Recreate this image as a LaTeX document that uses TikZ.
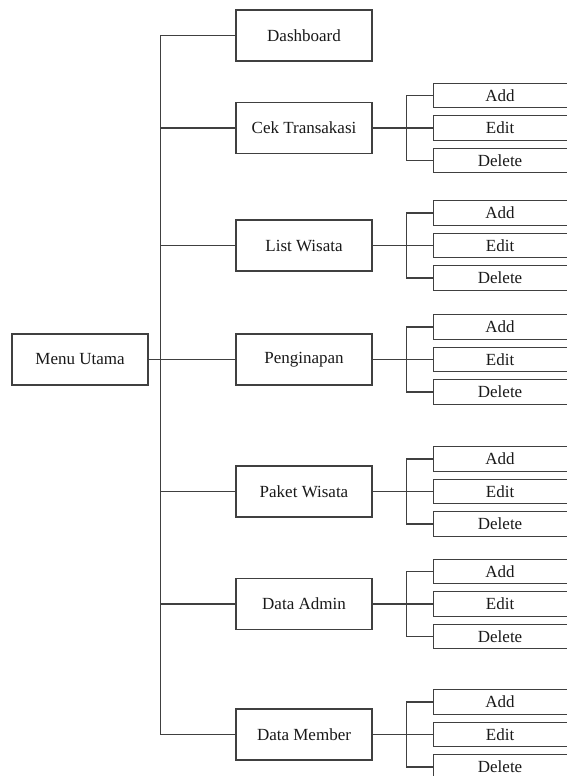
\documentclass[tikz,border=0pt]{standalone}
\usepackage{fontspec}
\setmainfont{Liberation Serif}
\begin{document}
\begin{tikzpicture}[x=1pt,y=-1pt,
  line width=1.1pt,
  wire/.style={draw=black!75},
  menubox/.style={draw=black!75, fill=white, minimum width=136pt, minimum height=51pt,
    inner sep=0pt, font=\fontsize{17}{20}\selectfont, text=black!90},
  leafbox/.style={draw=black!75, fill=white, minimum width=134pt, minimum height=24.5pt,
    inner sep=0pt, font=\fontsize{17}{20}\selectfont, text=black!90}]
\clip (0,0) rectangle (567,776);
\fill[white] (0,0) rectangle (567,776);

% root and main menu entries
\node[menubox] (menu)   at (80,359.5)  {Menu Utama};
\node[menubox] (dash)   at (304,35.5)  {Dashboard};
\node[menubox] (cek)    at (304,128)   {Cek Transakasi};
\node[menubox] (list)   at (304,245.5) {List Wisata};
\node[menubox] (ping)   at (304,359.5) {Penginapan};
\node[menubox] (paket)  at (304,491.5) {Paket Wisata};
\node[menubox] (admin)  at (304,604)   {Data Admin};
\node[menubox] (member) at (304,734.5) {Data Member};

% vertical trunk of the main menu
\coordinate (trunk) at (160.5,0);
\draw[wire] (dash.west) -| (trunk |- member.west) -- (member.west);
\foreach \m in {menu}{\draw[wire] (\m.east) -- (\m.east -| trunk);}
\foreach \m in {cek,list,ping,paket,admin}{\draw[wire] (\m.west) -- (\m.west -| trunk);}

% Add / Edit / Delete actions for each entry
\foreach \m in {cek,list,ping,paket,admin,member}{
  \node[leafbox, anchor=west] (\m-edit) at ([xshift=60pt]\m.east) {Edit};
  \node[leafbox, anchor=west] (\m-add)  at ([yshift=32.5pt]\m-edit.west) {Add};
  \node[leafbox, anchor=west] (\m-del)  at ([yshift=-32.5pt]\m-edit.west) {Delete};
  \draw[wire] (\m.east) -- (\m-edit.west);
  \draw[wire] (\m-add.west) -- ++(-26.5,0) |- (\m-del.west);
}
\end{tikzpicture}
\end{document}
